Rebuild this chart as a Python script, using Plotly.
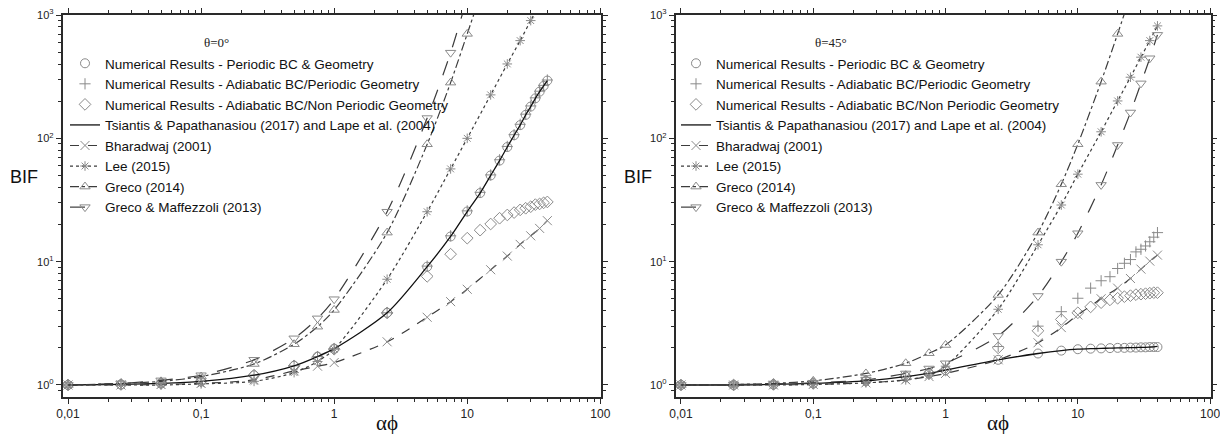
import plotly.graph_objects as go

# ---------------- data ----------------
NUM_X = [0.01, 0.025, 0.05, 0.1, 0.25, 0.5, 0.75, 1, 2.5, 5, 7.5, 10, 12.5, 15,
         17.5, 20, 22.5, 25, 27.5, 30, 32.5, 35, 37.5, 40]

# theta = 0 deg
L_PER = [1.0, 1.01, 1.03, 1.07, 1.2, 1.43, 1.70, 1.97, 3.85, 9.1, 16.0, 25.5, 36, 50,
         66, 85, 106, 128, 155, 181, 211, 239, 266, 294]
L_ADP = [1.0, 1.01, 1.03, 1.07, 1.2, 1.43, 1.70, 1.97, 3.85, 9.2, 16.2, 25.8, 36.5, 50.5,
         67, 86, 107, 130, 157, 183, 213, 241, 269, 297]
L_ADN = [1.0, 1.01, 1.03, 1.07, 1.2, 1.43, 1.68, 1.95, 3.84, 7.6, 11.5, 15.5, 18, 20.2,
         22.5, 23.9, 25, 26.3, 27.1, 27.9, 29, 29.4, 30, 30.5]
L_TSI = [1.0, 1.01, 1.03, 1.07, 1.2, 1.43, 1.70, 1.97, 3.85, 9.1, 16.0, 25.5, 36, 50,
         66, 85, 106, 128, 155, 181, 211, 239, 266, 294]

L_BH_X = [0.01, 0.025, 0.05, 0.1, 0.25, 0.5, 0.75, 1, 2.5, 5, 7.5, 10, 15, 20, 25, 30, 35, 40]
L_BH_Y = [1.0, 1.0, 1.01, 1.03, 1.1, 1.3, 1.42, 1.52, 2.24, 3.54, 4.74, 5.97, 8.6, 11.1,
          13.8, 16.2, 18.6, 21.5]
L_LEE_X = [0.01, 0.025, 0.05, 0.1, 0.25, 0.5, 0.75, 1, 2.5, 5, 7.5, 10, 15, 20, 25, 30]
L_LEE_Y = [1.0, 1.0, 1.0, 1.02, 1.07, 1.26, 1.55, 1.95, 7.2, 25.4, 56.5, 100, 225, 401, 620, 901]
L_LEE_TAIL_X = [32.5]
L_LEE_TAIL_Y = [1060]
L_GR_X = [0.01, 0.025, 0.05, 0.1, 0.25, 0.5, 0.75, 1, 2.5, 5, 7.5, 10]
L_GR_Y = [1.0, 1.03, 1.07, 1.17, 1.48, 2.14, 2.97, 4.06, 17.2, 89.5, 283, 703]
L_GR_TAIL_X = [11.5]
L_GR_TAIL_Y = [1100]
L_GM_X = [0.01, 0.025, 0.05, 0.1, 0.25, 0.5, 0.75, 1, 2.5, 5, 7.5]
L_GM_Y = [1.0, 1.03, 1.09, 1.2, 1.6, 2.39, 3.47, 4.96, 25.4, 146, 495]
L_GM_TAIL_X = [9.3]
L_GM_TAIL_Y = [1060]

# theta = 45 deg
R_PER = [1.0, 1.0, 1.01, 1.03, 1.08, 1.17, 1.24, 1.32, 1.6, 1.8, 1.9, 1.95, 1.97, 1.98,
         1.99, 2.0, 2.0, 2.01, 2.01, 2.02, 2.02, 2.03, 2.03, 2.03]
R_ADP = [1.0, 1.0, 1.01, 1.03, 1.08, 1.17, 1.24, 1.33, 2.05, 3.0, 3.93, 5.05, 6.1, 7.0,
         7.55, 8.8, 9.7, 10.4, 12.0, 12.6, 13.4, 14.5, 15.8, 17.2]
R_ADN = [1.0, 1.0, 1.01, 1.03, 1.08, 1.17, 1.24, 1.32, 2.0, 2.75, 3.4, 3.85, 4.3, 4.65,
         4.9, 5.05, 5.2, 5.3, 5.4, 5.45, 5.5, 5.55, 5.6, 5.6]
R_TSI = [1.0, 1.0, 1.01, 1.03, 1.08, 1.17, 1.24, 1.32, 1.6, 1.8, 1.9, 1.95, 1.97, 1.98,
         1.99, 2.0, 2.0, 2.01, 2.01, 2.02, 2.02, 2.03, 2.04, 2.06]

R_BH_X = [0.01, 0.025, 0.05, 0.1, 0.25, 0.5, 0.75, 1, 2.5, 5, 7.5, 10, 15, 20, 25, 30, 35, 40]
R_BH_Y = [1.0, 1.0, 1.0, 1.01, 1.04, 1.1, 1.17, 1.24, 1.6, 2.2, 2.92, 3.7, 5.0, 6.1, 7.3,
          8.7, 10.1, 11.3]
R_LEE_X = [0.01, 0.025, 0.05, 0.1, 0.25, 0.5, 0.75, 1, 2.5, 5, 7.5, 10, 15, 20, 25, 30, 35, 40]
R_LEE_Y = [1.0, 1.0, 1.0, 1.01, 1.04, 1.1, 1.2, 1.42, 4.11, 13.7, 28.8, 51.2, 113, 201,
           313, 455, 620, 816]
R_GR_X = [0.01, 0.025, 0.05, 0.1, 0.25, 0.5, 0.75, 1, 2.5, 5, 7.5, 10, 15, 20]
R_GR_Y = [1.0, 1.01, 1.03, 1.08, 1.24, 1.5, 1.81, 2.11, 5.37, 17.2, 42.4, 89.6, 288, 703]
R_GR_TAIL_X = [23]
R_GR_TAIL_Y = [1100]
R_GM_X = [0.01, 0.025, 0.05, 0.1, 0.25, 0.5, 0.75, 1, 2.5, 5, 7.5, 10, 15, 20, 25, 30, 35, 40]
R_GM_Y = [1.0, 1.01, 1.02, 1.04, 1.1, 1.24, 1.36, 1.5, 2.5, 5.27, 10, 17, 41.9, 88.3, 162,
          279, 446, 690]

NAMES = ["Numerical Results - Periodic BC & Geometry",
         "Numerical Results - Adiabatic BC/Periodic Geometry",
         "Numerical Results - Adiabatic BC/Non Periodic Geometry",
         "Tsiantis & Papathanasiou (2017) and Lape et al. (2004)",
         "Bharadwaj (2001)",
         "Lee (2015)",
         "Greco (2014)",
         "Greco & Maffezzoli (2013)"]
PANEL_TITLES = ["θ=0°", "θ=45°"]
X_TICKS = [0.01, 0.1, 1, 10, 100]
X_TICKTEXT = ["0,01", "0,1", "1", "10", "100"]
Y_TICKS = [1, 10, 100, 1000]
Y_TICKTEXT = ["10<sup>0</sup>", "10<sup>1</sup>", "10<sup>2</sup>", "10<sup>3</sup>"]

# ---------------- styles ----------------
MARK_C = "#8a8a8a"
LINE_C = "#3c3c3c"
SANS = "Liberation Sans, Arial, sans-serif"
SERIF = "Liberation Serif, Times New Roman, serif"

STYLE = [
    dict(symbol="circle-open", size=9, dash=None),
    dict(symbol="cross-thin-open", size=8, dash=None),
    dict(symbol="diamond-open", size=9, dash=None),
    dict(symbol=None, size=0, dash="solid"),
    dict(symbol="x-thin-open", size=9, dash="dash"),
    dict(symbol="asterisk-open", size=8, dash="dot"),
    dict(symbol="triangle-up-open", size=9, dash="dashdot"),
    dict(symbol="triangle-down-open", size=9, dash="longdash"),
]

fig = go.Figure()


def marker(st):
    return dict(symbol=st["symbol"], size=st["size"], color=MARK_C,
                line=dict(width=1, color=MARK_C))


def line(st, idx):
    return dict(color="#111111" if idx == 3 else LINE_C, width=1.3 if idx == 3 else 1.2,
                dash=st["dash"], shape="spline", smoothing=0.8)


def panel(xa, ya, leg, numerical, theory):
    for i, yv in enumerate(numerical):
        st = STYLE[i]
        fig.add_trace(go.Scatter(x=NUM_X, y=yv, mode="markers", marker=marker(st),
                                 xaxis=xa, yaxis=ya, showlegend=False, hoverinfo="skip"))
    for (i, xv, yv, tx, ty, mk) in theory:
        st = STYLE[i]
        fig.add_trace(go.Scatter(x=xv + tx, y=yv + ty, mode="lines", line=line(st, i),
                                 xaxis=xa, yaxis=ya, showlegend=False, hoverinfo="skip"))
        if mk:
            fig.add_trace(go.Scatter(x=xv, y=yv, mode="markers", marker=marker(st),
                                     xaxis=xa, yaxis=ya, showlegend=False,
                                     hoverinfo="skip"))
    for i, name in enumerate(NAMES):
        st = STYLE[i]
        if i < 3:
            kw = dict(mode="markers", marker=marker(st))
        elif i == 3:
            kw = dict(mode="lines", line=dict(color="#111111", width=1.3))
        else:
            kw = dict(mode="lines+markers", marker=marker(st),
                      line=dict(color=LINE_C, width=1.2, dash=st["dash"]))
        fig.add_trace(go.Scatter(x=[None], y=[None], name=name, xaxis=xa, yaxis=ya,
                                 legend=leg, showlegend=True, **kw))


panel("x", "y", "legend", [L_PER, L_ADP, L_ADN], [
    (3, NUM_X, L_TSI, [], [], False),
    (4, L_BH_X, L_BH_Y, [], [], True),
    (5, L_LEE_X, L_LEE_Y, L_LEE_TAIL_X, L_LEE_TAIL_Y, True),
    (6, L_GR_X, L_GR_Y, L_GR_TAIL_X, L_GR_TAIL_Y, True),
    (7, L_GM_X, L_GM_Y, L_GM_TAIL_X, L_GM_TAIL_Y, True),
])
panel("x2", "y2", "legend2", [R_PER, R_ADP, R_ADN], [
    (3, NUM_X, R_TSI, [], [], False),
    (4, R_BH_X, R_BH_Y, [], [], True),
    (5, R_LEE_X, R_LEE_Y, [], [], True),
    (6, R_GR_X, R_GR_Y, R_GR_TAIL_X, R_GR_TAIL_Y, True),
    (7, R_GM_X, R_GM_Y, [], [], True),
])

W, H = 1220, 434
MINOR_X = [m * 10.0 ** e for e in range(-2, 2) for m in range(2, 10)]
MINOR_Y = [m * 10.0 ** e for e in range(-1, 3) for m in range(2, 10)]

common = dict(type="log", showline=True, linecolor="#2a2a2a", linewidth=1.8,
              mirror="allticks", ticks="outside", ticklen=5, tickwidth=1,
              tickcolor="#2a2a2a", showgrid=False, zeroline=False, automargin=False,
              ticklabeloverflow="allow")
xcommon = dict(common, range=[-2.04, 2.003], tickmode="array", tickvals=X_TICKS,
               ticktext=X_TICKTEXT, tickfont=dict(family=SANS, size=12, color="#222"),
               minor=dict(ticks="outside", ticklen=3, tickmode="array",
                          tickvals=MINOR_X, tickcolor="#2a2a2a"))
ycommon = dict(common, range=[-0.095, 3.0], tickmode="array", tickvals=Y_TICKS,
               ticktext=Y_TICKTEXT, tickfont=dict(family=SANS, size=11, color="#222"),
               minor=dict(ticks="outside", ticklen=3, tickmode="array",
                          tickvals=MINOR_Y, tickcolor="#2a2a2a"))

yd = [1 - 396.7 / H, 1 - 15 / H]
legfont = dict(family=SANS, size=13.5, color="#111")
fig.update_layout(
    width=W, height=H, margin=dict(l=0, r=0, t=0, b=0, autoexpand=False),
    paper_bgcolor="white", plot_bgcolor="white",
    xaxis=dict(xcommon, domain=[62.7 / W, 600.7 / W], anchor="y"),
    yaxis=dict(ycommon, domain=yd, anchor="x"),
    xaxis2=dict(xcommon, domain=[675.7 / W, 1210.5 / W], anchor="y2"),
    yaxis2=dict(ycommon, domain=yd, anchor="x2"),
    legend=dict(x=65 / W, xanchor="left", y=1 - 48 / H, yanchor="top",
                bgcolor="rgba(0,0,0,0)", font=legfont, itemwidth=30, tracegroupgap=0),
    legend2=dict(x=676 / W, xanchor="left", y=1 - 48 / H, yanchor="top",
                 bgcolor="rgba(0,0,0,0)", font=legfont, itemwidth=30, tracegroupgap=0),
    showlegend=True,
)

ann = []
for cx, title in zip([216, 831], PANEL_TITLES):
    ann.append(dict(x=cx / W, y=1 - 42 / H, xref="paper", yref="paper", text=title,
                    xanchor="center", yanchor="middle", showarrow=False,
                    font=dict(family=SERIF, size=13, color="#222")))
for bx in [24, 638]:
    ann.append(dict(x=bx / W, y=1 - 177 / H, xref="paper", yref="paper", text="BIF",
                    xanchor="center", yanchor="middle", showarrow=False,
                    font=dict(family=SANS, size=18, color="#111")))
for ax in [387, 998]:
    ann.append(dict(x=ax / W, y=1 - 423 / H, xref="paper", yref="paper", text="αϕ",
                    xanchor="center", yanchor="middle", showarrow=False,
                    font=dict(family=SERIF, size=21, color="#111")))
fig.update_layout(annotations=ann)

fig.write_html("out.html", config={"displayModeBar": False},
               post_script="document.body.style.margin='0';")
